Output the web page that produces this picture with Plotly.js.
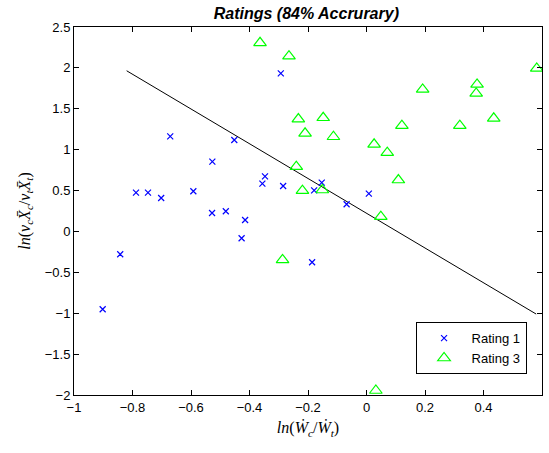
<!DOCTYPE html>
<html>
<head>
<meta charset="utf-8">
<script src="https://cdn.plot.ly/plotly-3.0.1.min.js"></script>
<style>html,body{margin:0;padding:0;background:#fff;}#chart{width:549px;height:453px;}</style>
</head>
<body>
<div id="chart"></div>
<script>
// Rating 1 (blue crosses)
const rating1X = [-0.671, -0.788, -0.747, -0.702, -0.592, -0.527, -0.528, -0.481, -0.452, -0.415, -0.427, -0.356, -0.347, -0.285, -0.842, -0.186, -0.179, -0.902, -0.293, -0.153, 0.008, -0.068];
const rating1Y = [1.163, 0.474, 0.474, 0.409, 0.491, 0.853, 0.226, 0.247, 1.118, 0.140, -0.083, 0.584, 0.674, 0.556, -0.279, -0.377, 0.503, -0.951, 1.933, 0.596, 0.462, 0.332];
// Rating 3 (green triangles)
const rating3X = [-0.364, -0.265, 0.582, 0.192, 0.378, 0.375, -0.233, -0.148, -0.210, -0.113, 0.121, 0.319, 0.435, 0.026, 0.071, 0.109, -0.240, -0.219, -0.151, 0.049, -0.287, 0.032];
const rating3Y = [2.307, 2.144, 1.994, 1.737, 1.798, 1.688, 1.374, 1.390, 1.200, 1.158, 1.293, 1.293, 1.383, 1.065, 0.963, 0.629, 0.792, 0.498, 0.507, 0.181, -0.348, -1.945];
// Decision boundary
const boundaryX = [-0.82, 0.58];
const boundaryY = [1.965, -1.01];

const xTicks = [-1, -0.8, -0.6, -0.4, -0.2, 0, 0.2, 0.4, 0.6];
const xTickLabels = ["\u22121", "\u22120.8", "\u22120.6", "\u22120.4", "\u22120.2", "0", "0.2", "0.4", "0.6"];
const yTicks = [-2, -1.5, -1, -0.5, 0, 0.5, 1, 1.5, 2, 2.5];
const yTickLabels = ["\u22122", "\u22121.5", "\u22121", "\u22120.5", "0", "0.5", "1", "1.5", "2", "2.5"];

const traces = [
  {x: boundaryX, y: boundaryY, mode: 'lines', line: {color: '#000', width: 1}, showlegend: false, hoverinfo: 'skip'},
  {x: rating1X, y: rating1Y, mode: 'markers', name: 'Rating 1',
   marker: {symbol: 'x-thin-open', size: 6, color: '#0000ff', line: {color: '#0000ff', width: 1.2}}},
  {x: rating3X, y: rating3Y, mode: 'markers', name: 'Rating 3',
   marker: {symbol: 'triangle-up-open', size: 11, color: '#00ff00', line: {color: '#00ff00', width: 1.2}}}
];

const axisCommon = {
  showgrid: false, zeroline: false, showline: true, linecolor: '#000', linewidth: 1,
  mirror: 'ticks', ticks: 'inside', ticklen: 5, tickcolor: '#000', tickwidth: 1,
  tickfont: {family: 'Liberation Sans, Arial, sans-serif', size: 13, color: '#000'},
  tickmode: 'array'
};

const layout = {
  width: 549, height: 453,
  margin: {l: 74, r: 7, t: 27, b: 58},
  paper_bgcolor: '#fff', plot_bgcolor: '#fff',
  title: {text: '<b><i>Ratings (84% Accrurary)</i></b>', x: 0.558, xanchor: 'center', y: 0.971, yanchor: 'middle',
          font: {family: 'Liberation Sans, Arial, sans-serif', size: 16, color: '#000'}},
  xaxis: Object.assign({}, axisCommon, {
    range: [-1, 0.6], tickvals: xTicks, ticktext: xTickLabels,
    title: {text: '<i>ln</i>(<i>\u1E86<sub>c</sub></i>/<i>\u1E86<sub>t</sub></i>)', standoff: 8,
            font: {family: 'Liberation Serif, DejaVu Serif, serif', size: 16, color: '#000'}}
  }),
  yaxis: Object.assign({}, axisCommon, {
    range: [-2, 2.5], tickvals: yTicks, ticktext: yTickLabels,
    title: {text: '<i>ln</i>(<i>v<sub>c</sub>X\u0304<sub>c</sub></i>/<i>v<sub>t</sub>X\u0304<sub>t</sub></i>)', standoff: 10,
            font: {family: 'Liberation Serif, DejaVu Serif, serif', size: 16, color: '#000'}}
  }),
  legend: {x: 0.967, xanchor: 'right', y: 0.198, yanchor: 'top', bgcolor: '#fff', bordercolor: '#000', borderwidth: 1,
           itemwidth: 45,
           font: {family: 'Liberation Sans, Arial, sans-serif', size: 13, color: '#000'}, tracegroupgap: 0},
  showlegend: true
};

Plotly.newPlot('chart', traces, layout, {staticPlot: true, displayModeBar: false});
</script>
</body>
</html>
